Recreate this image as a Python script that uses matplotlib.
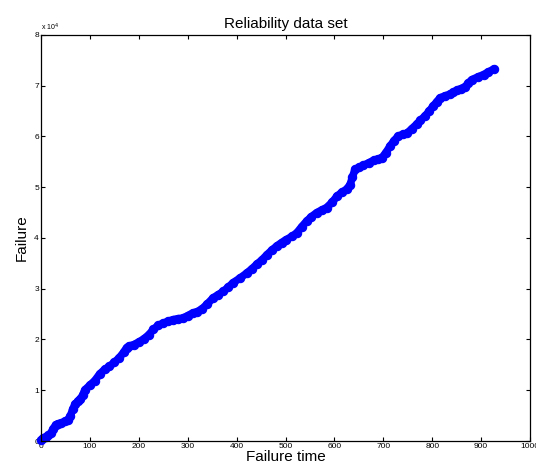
import numpy as np
from matplotlib import pyplot as plt
from matplotlib.ticker import FuncFormatter

#Data (failure time vs failure, y in units of 1e4)
failure_time = [0, 5, 10, 15, 20, 25, 30, 35, 40, 50, 55, 60, 65, 70, 75, 80, 85, 90,
                100, 110, 120, 130, 140, 150, 160, 170, 175, 180, 190, 200, 210, 220,
                230, 240, 250, 260, 270, 280, 290, 300, 310, 320, 330, 340, 352, 362,
                373, 383, 393, 407, 421, 431, 441, 452, 462, 472, 482, 492, 502, 513,
                523, 533, 543, 553, 564, 574, 584, 595, 605, 615, 625, 632, 637, 642,
                650, 659, 670, 680, 690, 697, 705, 714, 722, 731, 740, 748, 758, 768,
                776, 785, 794, 802, 809, 816, 826, 836, 843, 850, 858, 867, 874, 881,
                893, 905, 915, 926]
failure_e4 = [0.02, 0.05, 0.085, 0.11, 0.15, 0.24, 0.32, 0.34, 0.35, 0.39, 0.42, 0.49,
              0.63, 0.73, 0.78, 0.82, 0.90, 1.01, 1.10, 1.19, 1.32, 1.41, 1.47, 1.55,
              1.64, 1.76, 1.84, 1.87, 1.90, 1.95, 2.01, 2.09, 2.20, 2.28, 2.32, 2.36,
              2.39, 2.41, 2.42, 2.47, 2.52, 2.55, 2.61, 2.70, 2.82, 2.88, 2.95, 3.03,
              3.12, 3.21, 3.31, 3.39, 3.48, 3.57, 3.67, 3.76, 3.84, 3.91, 3.97, 4.03,
              4.10, 4.22, 4.33, 4.42, 4.50, 4.55, 4.60, 4.70, 4.82, 4.90, 4.96, 5.05,
              5.20, 5.35, 5.39, 5.43, 5.48, 5.53, 5.56, 5.58, 5.68, 5.81, 5.92, 6.01,
              6.04, 6.06, 6.15, 6.24, 6.32, 6.40, 6.50, 6.60, 6.68, 6.76, 6.80, 6.83,
              6.87, 6.91, 6.94, 6.98, 7.05, 7.12, 7.17, 7.22, 7.27, 7.33]
failure = np.array(failure_e4) * 1e4

x_ticks = list(range(0, 1001, 100))
y_ticks = list(range(0, 80001, 10000))

plt.rcParams['font.family'] = ['Liberation Sans', 'DejaVu Sans']

#Setup the graph
fig = plt.figure(figsize=(5.36, 4.69), dpi=100)
ax = fig.add_axes([0.0765, 0.0597, 0.9123, 0.8657])
#dense markers in the original merge into a solid band
ax.plot(failure_time, failure, '-', color=(0, 0, 1), linewidth=5.5,
        solid_capstyle='round', solid_joinstyle='round', clip_on=False)
ax.plot(failure_time, failure, 'o', color=(0, 0, 1), markersize=6,
        markeredgewidth=0.8, clip_on=False)

ax.set_xlim(0, 1000)
ax.set_ylim(0, 80000)
ax.set_xticks(x_ticks)
ax.set_yticks(y_ticks)
ax.yaxis.set_major_formatter(FuncFormatter(lambda v, p: "%d" % round(v / 1e4)))
ax.tick_params(direction='in', top=True, right=True, length=3, width=0.8,
               labelsize=6, pad=1.5, colors='black')
for s in ax.spines.values():
    s.set_linewidth(0.9)

ax.text(0.0, 1.005, r"x 10$^{4}$", transform=ax.transAxes, fontsize=5,
        ha='left', va='bottom')
ax.set_title("Reliability data set", fontsize=11, pad=5)
ax.set_xlabel("Failure time", fontsize=11, labelpad=0)
ax.set_ylabel("Failure", fontsize=11, labelpad=4)

fig.savefig("out.png", dpi=100)
